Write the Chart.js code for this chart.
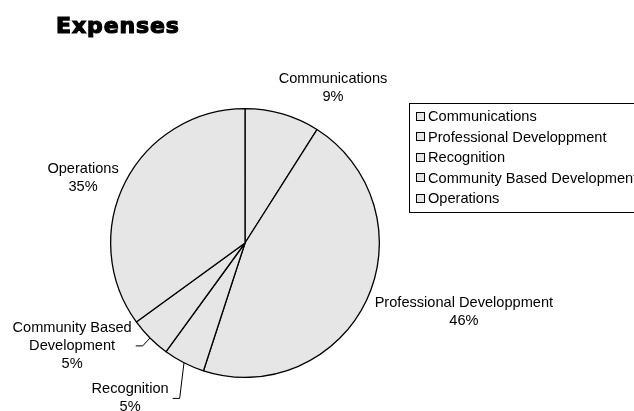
<!DOCTYPE html>
<html>
<head>
<meta charset="utf-8">
<script src="https://cdn.jsdelivr.net/npm/chart.js@4/dist/chart.umd.min.js"></script>
<style>
html, body { margin: 0; padding: 0; background: #fff; overflow: hidden; }
#wrap { position: relative; width: 634px; height: 411px; overflow: hidden; }
#chart { position: absolute; left: 0; top: 0; }
#title { position: absolute; left: 56px; top: 13px; font: bold 22px "DejaVu Sans", sans-serif; color: #000; -webkit-text-stroke: 1.2px #000; letter-spacing: 0.9px; }
#legend { position: absolute; left: 409px; top: 103px; width: 260px; border: 1px solid #000; padding: 2px 0 3px 6px; font: 14.6px "Liberation Sans", Arial, sans-serif; color: #000; }
#legend .item { height: 20.5px; display: flex; align-items: center; white-space: nowrap; }
#legend .box { width: 7px; height: 7px; border: 1px solid #000; background: #e6e6e6; margin-right: 3px; }
</style>
</head>
<body>
<div id="wrap">
    <canvas id="chart" width="634" height="411"></canvas>
    <div id="title">Expenses</div>
    <div id="legend"></div>
</div>
<script>
const CATEGORIES = ['Communications', 'Professional Developpment', 'Recognition', 'Community Based Development', 'Operations'];
const VALUES = [9, 46, 5, 5, 35];

// label placement relative to the slice edge point (px), leader line yes/no, wrap onto two lines
const LABEL_LAYOUT = [
    { dx: 50.5, dy: -26.3, leader: false, wrap: false },
    { dx: 97.3, dy: 11.7, leader: false, wrap: false },
    { dx: -53.9, dy: 35.7, leader: true, wrap: false },
    { dx: -77.9, dy: 7.9, leader: true, wrap: true },
    { dx: -42.2, dy: -3.9, leader: false, wrap: false }
];

const SLICE_FILL = '#e6e6e6';
const LABEL_FONT = '14.6px "Liberation Sans", Arial, sans-serif';
const LINE_H = 18;

const legendEl = document.getElementById('legend');
CATEGORIES.forEach((name) => {
    const row = document.createElement('div');
    row.className = 'item';
    row.innerHTML = `<span class="box"></span><span>${name}</span>`;
    legendEl.appendChild(row);
});

const splitLines = (text, wrap) => {
    if (!wrap) return [text];
    const cut = text.lastIndexOf(' ');
    return [text.slice(0, cut), text.slice(cut + 1)];
};

const sliceLabels = {
    id: 'sliceLabels',
    afterDatasetsDraw(chart) {
        const ctx = chart.ctx;
        const meta = chart.getDatasetMeta(0);
        const total = VALUES.reduce((a, b) => a + b, 0);
        ctx.save();
        ctx.font = LABEL_FONT;
        ctx.fillStyle = '#000';
        ctx.strokeStyle = '#000';
        ctx.lineWidth = 1;
        ctx.textAlign = 'center';
        ctx.textBaseline = 'middle';
        meta.data.forEach((arc, i) => {
            const { x, y, startAngle, endAngle, outerRadius } = arc.getProps(['x', 'y', 'startAngle', 'endAngle', 'outerRadius'], true);
            const mid = (startAngle + endAngle) / 2;
            const ex = x + Math.cos(mid) * outerRadius;
            const ey = y + Math.sin(mid) * outerRadius;
            const lay = LABEL_LAYOUT[i];
            const lines = splitLines(CATEGORIES[i], lay.wrap);
            lines.push(Math.round(VALUES[i] / total * 100) + '%');
            const cx = ex + lay.dx;
            const cy = ey + lay.dy;
            const top = cy - (lines.length - 1) * LINE_H / 2;
            let maxW = 0;
            lines.forEach((line, k) => {
                ctx.fillText(line, cx, top + k * LINE_H);
                maxW = Math.max(maxW, ctx.measureText(line).width);
            });
            if (lay.leader) {
                const end = cx + maxW / 2 + 4;
                ctx.beginPath();
                ctx.moveTo(ex, ey);
                ctx.lineTo(end + 7, cy);
                ctx.lineTo(end, cy);
                ctx.stroke();
            }
        });
        ctx.restore();
    }
};

new Chart(document.getElementById('chart'), {
    type: 'pie',
    data: {
        labels: CATEGORIES,
        datasets: [{
            data: VALUES,
            backgroundColor: SLICE_FILL,
            borderColor: '#000',
            borderWidth: 1.3
        }]
    },
    options: {
        responsive: false,
        animation: false,
        layout: { padding: { left: 110, top: 108, right: 254, bottom: 33 } },
        plugins: {
            legend: { display: false },
            title: { display: false },
            tooltip: { enabled: false }
        }
    },
    plugins: [sliceLabels]
});
</script>
</body>
</html>
